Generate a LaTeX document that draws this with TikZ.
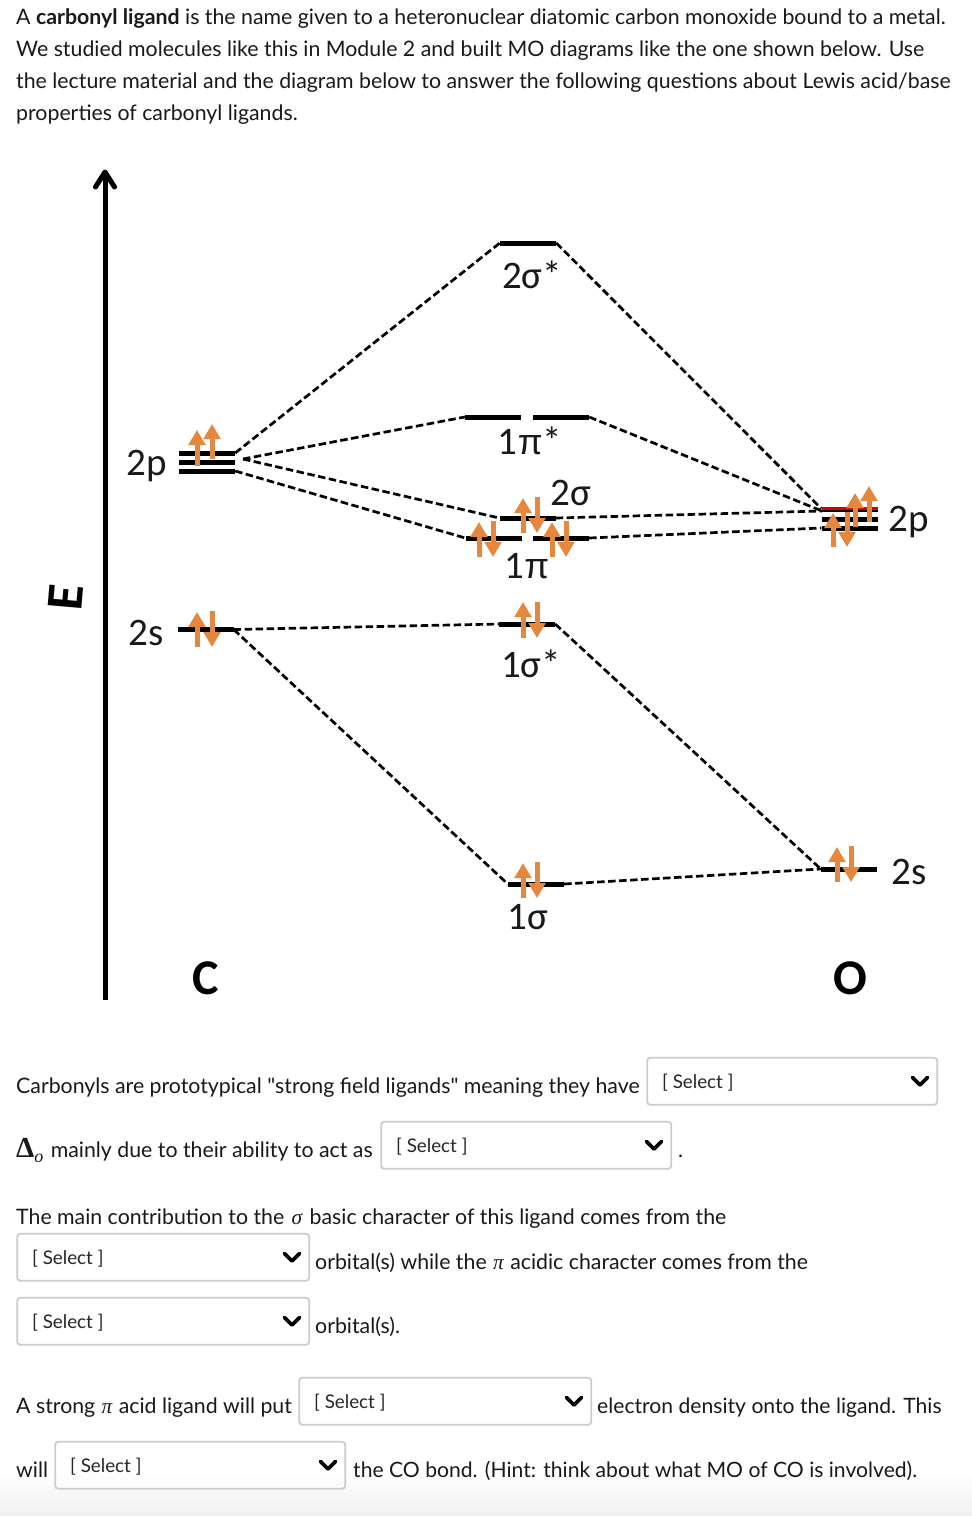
\documentclass[tikz,border=0pt]{standalone}
\usepackage{fontspec}
\setmainfont{Lato}
\newfontfamily\latoplain{Lato}
\newfontfamily\calib{Carlito}
\newfontfamily\lib{Liberation Sans}
\newfontfamily\mathish{Liberation Serif}
\usetikzlibrary{arrows.meta}
\definecolor{elecorange}{HTML}{E5873F}
\definecolor{boxgray}{HTML}{C7CDD1}
\newcommand{\sympi}{{\mathish\itshape\kern1pt π\kern1pt}}
\newcommand{\symsigma}{{\mathish\itshape\kern2pt σ\kern2pt}}
\newcommand{\upi}{{\lib\fontsize{36}{40}\selectfont π}}
\newcommand{\dq}{{\latoplain"}}
\tikzset{
  x=1pt,y=-1pt,
  level/.style={fill=black,inner sep=0pt,minimum height=5pt,minimum width=#1,rectangle},
  level/.default=56pt,
  conn/.style={draw=black,line width=2.7pt,dash pattern=on 7.5pt off 3.5pt},
  elec/.style={draw=elecorange,line width=5pt,-{Triangle[width=16.5pt,length=15pt]}},
  mo/.style={font=\calib\fontsize{39}{40}\selectfont,inner sep=0pt,text=black!90},
  atom/.style={font=\calib\bfseries\fontsize{50}{50}\selectfont,inner sep=0pt},
  body/.style={anchor=base west,inner sep=0pt,font=\fontsize{21.3}{26}\selectfont,text=black!90},
  bodyn/.style={body,font=\fontsize{21.13}{26}\selectfont},
  selbox/.style={draw=boxgray,line width=1.8pt,rounded corners=3pt,minimum width=#1,minimum height=47pt,inner sep=0pt,anchor=north west},
  selbox/.default=290pt,
  seltext/.style={anchor=base west,inner sep=0pt,font=\fontsize{18.8}{24}\selectfont,text=black!85},
  chev/.style={draw=black,line width=3.6pt,line cap=round,line join=round},
  axisline/.style={draw=black,line width=5pt,line cap=round,line join=round},
}
\newcommand{\selectat}[4]{%
  \node[selbox=#3pt] (#4) at (#1-0.7,#2-0.7) {};
  \node[seltext] (#4t) at (#1+15,#2+31) {[ Select ]};
  \coordinate (#4c) at (#1+#3-17,#2+23.5);
  \draw[chev] ([shift={(-7.5pt,3.5pt)}]#4c) -- ([shift={(0pt,-4pt)}]#4c) -- ([shift={(7.5pt,3.5pt)}]#4c);
}
\begin{document}
\begin{tikzpicture}
\useasboundingbox (0,0) rectangle (972,1516);
\fill[white] (0,0) rectangle (972,1516);
\shade[top color=white,bottom color=black!6,draw=none] (0,1470) rectangle (972,1516);

% intro
\node[body] (l1) at (16,24) {A \textbf{carbonyl ligand} is the name given to a heteronuclear diatomic carbon monoxide bound to a metal.};
\node[body] (l2) at (16,56) {We studied molecules like this in Module 2 and built MO diagrams like the one shown below. Use};
\node[body] (l3) at (16,88) {the lecture material and the diagram below to answer the following questions about Lewis acid/base};
\node[body] (l4) at (16,120) {properties of carbonyl ligands.};

% energy axis
\coordinate (ea) at (105,1000);
\coordinate (eb) at (105,172);
\coordinate (ebl) at (95.5,187);
\coordinate (ebr) at (114.5,187);
\draw[axisline,line cap=butt] (ea) -- (eb);
\draw[axisline] (ebl) -- (eb) -- (ebr);
\node[font=\calib\bfseries\fontsize{52}{52}\selectfont,rotate=85,inner sep=0pt] (E) at (65.5,597) {E};

% levels
\node[level] (c2pa) at (207,453) {};
\node[level] (c2pb) at (207,462) {};
\node[level] (c2pc) at (207,471) {};
\node[level] (c2s) at (205.5,629.5) {};
\node[level] (s2u) at (528,243) {};
\node[level] (pu1) at (493,417) {};
\node[level] (pu2) at (561,417) {};
\node[level] (s2) at (527.5,518) {};
\node[level] (pb1) at (493.5,538) {};
\node[level] (pb2) at (561,538) {};
\node[level] (s1u) at (527,624) {};
\node[level] (s1) at (536,884) {};
\node[level] (o2pb) at (849.5,519) {};
\node[level] (o2pc) at (849.5,528) {};
\node[level,fill=black,minimum height=4pt] (o2pa) at (849.5,510) {};
\node[level,fill=red!85!black,minimum height=2.2pt] (o2par) at (849.5,508.5) {};
\node[level] (o2s) at (849,869) {};
\coordinate (cjoin) at (243,459);
\coordinate (ojoin) at (822,511);

% connectors
\draw[conn] (c2pa.east) -- (s2u.west);
\draw[conn] (s2u.east) -- (o2par.west);
\draw[conn] (cjoin) -- (pu1.west);
\draw[conn] (pu2.east) -- (ojoin);
\draw[conn] (cjoin) -- (s2.west);
\draw[conn] (c2pc.east) -- (pb1.west);
\draw[conn] (s2.east) -- (ojoin);
\draw[conn] (pb2.east) -- (o2pc.west);
\draw[conn] (c2s.east) -- (s1u.west);
\draw[conn] (c2s.east) -- (s1.west);
\draw[conn] (s1u.east) -- (o2s.west);
\draw[conn] (s1.east) -- (o2s.west);

% electrons
\draw[elec] (197,466) -- (197,430);
\draw[elec] (212,459) -- (212,424);
\draw[elec] (197,647) -- (197,612);
\draw[elec] (212,611) -- (212,647);
\draw[elec] (523,533) -- (523,498);
\draw[elec] (537,497) -- (537,533);
\draw[elec] (479,557) -- (479,522);
\draw[elec] (493,521) -- (493,557);
\draw[elec] (552,557) -- (552,522);
\draw[elec] (566,521) -- (566,557);
\draw[elec] (523,638) -- (523,602);
\draw[elec] (537,602) -- (537,638);
\draw[elec] (523,898) -- (523,863);
\draw[elec] (537,862) -- (537,898);
\draw[elec] (833,547) -- (833,513);
\draw[elec] (847,512) -- (847,547);
\draw[elec] (855,527) -- (855,493);
\draw[elec] (869,522) -- (869,486);
\draw[elec] (837,882) -- (837,847);
\draw[elec] (851,846) -- (851,882);

% labels
\node[mo] (tc2p) at (147,466) {2p};
\node[mo] (tc2s) at (146,633) {2s};
\node[mo] (t2su) at (532,275) {2σ*};
\node[mo] (t1pu) at (530,441) {1\upi*};
\node[mo] (t2s) at (571,493) {2σ};
\node[mo] (t1p) at (527,566) {1\upi};
\node[mo] (t1su) at (531,664) {1σ*};
\node[mo] (t1s) at (528,917) {1σ};
\node[mo] (to2p) at (909,522) {2p};
\node[mo] (to2s) at (909,872) {2s};
\node[atom] (tC) at (205.5,978) {C};
\node[atom] (tO) at (850,978) {O};

% questions
\node[body] (q1) at (16,1093) {Carbonyls are prototypical \dq strong field ligands\dq{} meaning they have};
\selectat{647}{1057.5}{290}{sa}
\node[body] (q2) at (16,1157) {{\mathish\bfseries\fontsize{29}{26}\selectfont Δ}{\mathish\itshape\fontsize{18}{16}\selectfont\raisebox{-5pt}{o}}\kern2pt{} mainly due to their ability to act as};
\selectat{381}{1121.5}{290}{sb}
\node[body] (q2b) at (678,1157) {.};
\node[body] (q3) at (16,1224) {The main contribution to the \symsigma{} basic character of this ligand comes from the};
\selectat{17}{1233.5}{292}{sc}
\node[body] (q4) at (315,1269) {orbital(s) while the \sympi{} acidic character comes from the};
\selectat{17}{1297.5}{292}{sd}
\node[body] (q5) at (315,1333) {orbital(s).};
\node[body] (q6) at (16,1413) {A strong \sympi{} acid ligand will put};
\selectat{299}{1377.5}{292}{se}
\node[bodyn] (q7) at (597,1413) {electron density onto the ligand. This};
\node[body] (q8) at (16,1477) {will};
\selectat{55}{1441.5}{290}{sf}
\node[bodyn] (q9) at (353,1477) {the CO bond. (Hint: think about what MO of CO is involved).};
\end{tikzpicture}
\end{document}
